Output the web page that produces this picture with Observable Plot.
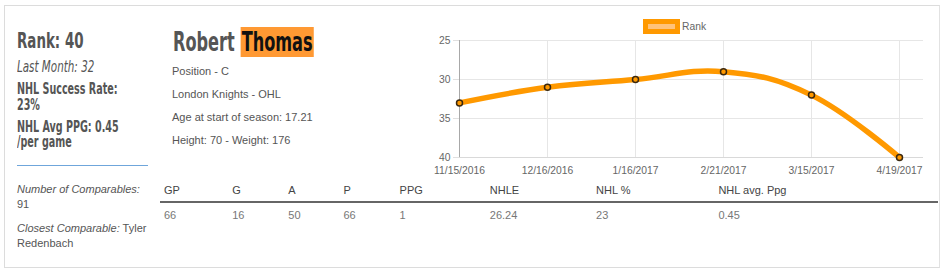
<!DOCTYPE html>
<html><head><meta charset="utf-8">
<script src="https://cdn.jsdelivr.net/npm/d3@7"></script>
<script src="https://cdn.jsdelivr.net/npm/@observablehq/plot@0.6"></script>
<style>
html,body{margin:0;padding:0;background:#fff;}
body{width:947px;height:273px;position:relative;overflow:hidden;font-family:Arial,"Liberation Sans",sans-serif;}
.abs{position:absolute;white-space:nowrap;}
.card{position:absolute;left:4px;top:5px;width:934px;height:261px;border:1px solid #dcdcdc;border-right-color:#e2e2e2;}
.osw{font-family:"DejaVu Sans Condensed","Liberation Sans Narrow",sans-serif;font-weight:bold;color:#555;transform:scaleX(0.71);transform-origin:0 0;}
.info{font-size:11px;line-height:23px;color:#555;}
.comp{font-size:11px;line-height:15px;color:#555;}
table{border-collapse:collapse;font-size:11px;}
</style></head><body>
<div class="card"></div>
<div id="left"></div>
<div id="mid"></div>
<div id="chart" class="abs" style="left:400px;top:0px;"></div>
<div id="legend"></div>
<div id="table" class="abs" style="left:160px;top:181px;"></div>
<script>
// ---- data ----
const dates = ["11/15/2016","12/16/2016","1/16/2017","2/21/2017","3/15/2017","4/19/2017"];
const ranks = [33, 31, 30, 29, 32, 40];
const yTicks = [25, 30, 35, 40];
const seriesName = "Rank";
const firstName = "Robert";
const lastName = "Thomas";
const currentRank = 40;
const lastMonthRank = 32;
const successRate = "23%";
const avgPPG = "0.45";
const infoLines = ["Position - C", "London Knights - OHL", "Age at start of season: 17.21", "Height: 70 - Weight: 176"];
const numComparables = 91;
const closestComparable = "Tyler Redenbach";
const tableHeaders = ["GP","G","A","P","PPG","NHLE","NHL %","NHL avg. Ppg"];
const tableValues = ["66","16","50","66","1","26.24","23","0.45"];

// ---- left column ----
const left = document.getElementById("left");
left.innerHTML = `
<div class="abs osw" style="left:17px;top:31px;font-size:21px;line-height:21px;">Rank: ${currentRank}</div>
<div class="abs osw" style="left:17px;top:59px;font-size:16px;line-height:16px;font-weight:normal;font-style:italic;transform:scaleX(0.72);">Last Month: ${lastMonthRank}</div>
<div class="abs osw" style="left:17px;top:81px;font-size:15px;line-height:16px;">NHL Success Rate:<br>${successRate}</div>
<div class="abs osw" style="left:17px;top:120px;font-size:15px;line-height:15px;">NHL Avg PPG: ${avgPPG}<br>/per game</div>
<div class="abs" style="left:17px;top:165px;width:131px;height:1px;background:#6fa6db;"></div>
<div class="abs comp" style="left:17px;top:182px;"><i>Number of Comparables:</i><br>${numComparables}</div>
<div class="abs comp" style="left:17px;top:221px;"><i>Closest Comparable:</i> ${closestComparable.split(" ")[0]}<br>${closestComparable.split(" ").slice(1).join(" ")}</div>
`;

// ---- middle column ----
const mid = document.getElementById("mid");
mid.innerHTML = `
<div class="abs osw" style="left:173px;top:27px;font-size:26px;line-height:31px;transform:scaleX(0.69);">${firstName} <span style="background:#ff9933;color:#111;padding:0 2px;">${lastName}</span></div>
<div class="abs info" style="left:172px;top:60px;">${infoLines.join("<br>")}</div>
`;

// ---- legend ----
document.getElementById("legend").innerHTML = `
<div class="abs" style="left:643px;top:19px;width:37px;height:15px;background:#ff9900;"></div>
<div class="abs" style="left:648px;top:24px;width:27px;height:5px;background:#ffc27a;"></div>
<div class="abs" style="left:682px;top:21px;font-size:10.3px;line-height:12px;color:#666;">${seriesName}</div>
`;

// ---- table ----
const colW = [68, 56, 55, 56, 90, 106, 122, 223];
let html = `<table style="width:778px;table-layout:fixed;"><colgroup>${colW.map(w=>`<col style="width:${w}px">`).join("")}</colgroup>`;
html += `<tr>${tableHeaders.map(h=>`<th style="text-align:left;font-weight:normal;color:#444;padding:3px 0 0 4px;height:17px;vertical-align:top;line-height:13px;border-bottom:2px solid #666;">${h}</th>`).join("")}</tr>`;
html += `<tr>${tableValues.map(v=>`<td style="color:#777;padding:6px 0 0 4px;line-height:13px;">${v}</td>`).join("")}</tr></table>`;
document.getElementById("table").innerHTML = html;

// ---- chart ----
const data = dates.map((d, i) => ({date: d, rank: ranks[i]}));
const chart = Plot.plot({
  width: 540,
  height: 185,
  marginLeft: 59,
  marginRight: 17,
  marginTop: 40,
  marginBottom: 28,
  style: {background: "transparent", fontFamily: "Arial, 'Liberation Sans', sans-serif", fontSize: "10.3px", overflow: "visible"},
  x: {type: "point", domain: dates, range: [59, 499], padding: 0},
  y: {domain: [25, 40], range: [40, 157]},
  marks: [
    Plot.ruleX(dates, {x: d => d, stroke: "#e6e6e6", strokeOpacity: 1}),
    Plot.ruleY(yTicks, {y: d => d, stroke: "#e6e6e6", strokeOpacity: 1}),
    Plot.axisY({ticks: yTicks, tickSize: 6, tickPadding: 3, stroke: "#e0e0e0", fill: "#666", label: null, strokeOpacity: 1}),
    Plot.axisX({ticks: dates, tickSize: 0, tickPadding: 9, fill: "#666", label: null}),
    Plot.ruleY([40], {stroke: "#d9d9d9", strokeOpacity: 1}),
    Plot.ruleX([dates[0]], {x: d => d, stroke: "#a8a8a8", strokeOpacity: 1}),
    Plot.line(data, {x: "date", y: "rank", stroke: "#ff9900", strokeWidth: 5.5, curve: "cardinal", tension: -0.2}),
    Plot.dot(data, {x: "date", y: "rank", r: 3, fill: "#ff9900", stroke: "#3a2810", strokeWidth: 1.5})
  ]
});
document.getElementById("chart").appendChild(chart);
</script>
</body></html>
